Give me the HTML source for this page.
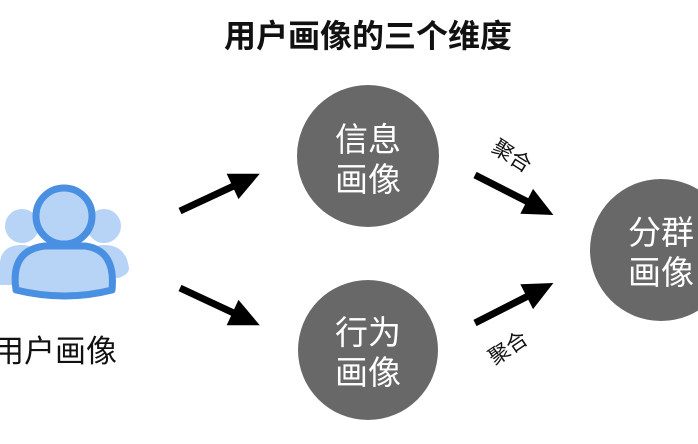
<!DOCTYPE html>
<html><head><meta charset="utf-8"><style>
body{margin:0;background:#fff;width:698px;height:439px;overflow:hidden;font-family:"Liberation Sans","Noto Sans CJK SC",sans-serif;}
</style></head><body>
<svg width="698" height="439" viewBox="0 0 698 439" xmlns="http://www.w3.org/2000/svg" style="font-family:'Liberation Sans','Noto Sans CJK SC',sans-serif">
<text x="368" y="47" text-anchor="middle" font-size="32" font-weight="bold" fill="#111">用户画像的三个维度</text>

<!-- user icon -->
<g>
<circle cx="22" cy="226" r="17" fill="#b7d3f5"/>
<path d="M0 262 Q2 245 22 245 Q36 245 40 260 L40 285 L0 285Z" fill="#b7d3f5"/>
<circle cx="104" cy="226" r="17" fill="#b7d3f5"/>
<path d="M84 258 Q90 245 104 245 Q126 245 129 268 Q129 275 118 278 L88 280Z" fill="#b7d3f5"/>
<path d="M16 290 Q10 250 45 246 L85 246 Q116 250 112 290 Q65 302 16 290Z" fill="#b7d3f5" stroke="#4a90e2" stroke-width="7" stroke-linejoin="round"/>
<circle cx="64" cy="216" r="28" fill="#b7d3f5" stroke="#4a90e2" stroke-width="7"/>
</g>
<text x="55" y="362" text-anchor="middle" font-size="31" fill="#111">用户画像</text>

<!-- circles -->
<circle cx="368" cy="156" r="71" fill="#686868"/>
<circle cx="368" cy="350" r="70" fill="#686868"/>
<circle cx="661" cy="250" r="71" fill="#686868"/>
<g fill="#fff" font-size="33" text-anchor="middle">
<text x="368" y="151">信息</text><text x="368" y="191">画像</text>
<text x="368" y="344">行为</text><text x="368" y="384">画像</text>
<text x="661" y="244">分群</text><text x="661" y="284">画像</text>
</g>

<!-- arrows -->
<g fill="#000">
<g transform="translate(180,211) rotate(-25)"><rect x="0" y="-3.5" width="62" height="7"/><polygon points="58,-14 88,0 58,14"/></g>
<g transform="translate(180,288) rotate(25)"><rect x="0" y="-3.5" width="62" height="7"/><polygon points="58,-14 88,0 58,14"/></g>
<g transform="translate(475,175) rotate(27)"><rect x="0" y="-3.5" width="62" height="7"/><polygon points="58,-14 88,0 58,14"/></g>
<g transform="translate(475,323) rotate(-27)"><rect x="0" y="-3.5" width="62" height="7"/><polygon points="58,-14 88,0 58,14"/></g>
</g>
<text transform="translate(508,162) rotate(32)" text-anchor="middle" font-size="21" fill="#111">聚合</text>
<text transform="translate(512,354) rotate(-34)" text-anchor="middle" font-size="21" fill="#111">聚合</text>
</svg>
</body></html>
